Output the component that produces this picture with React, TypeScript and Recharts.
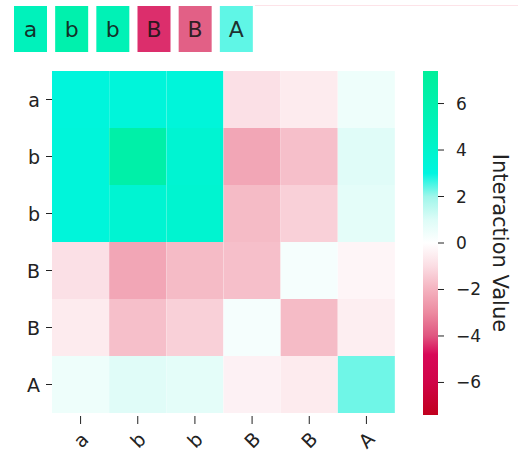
import React from "react";
import {
  Bar,
  BarChart,
  Cell,
  LabelList,
  XAxis,
  YAxis,
} from "recharts";

// residues along both axes
const residues = ["a", "b", "b", "B", "B", "A"];

// per-residue score shown in the top strip
const residueScores = [5.0, 6.0, 5.4, -4.4, -3.8, 2.4];

// pairwise interaction matrix (rows top→bottom, columns left→right)
const rowA = [3.2, 3.3, 3.3, -0.9, -0.6, 0.5];
const rowB1 = [3.3, 6.4, 3.7, -2.3, -1.7, 0.9];
const rowB2 = [3.3, 3.7, 3.8, -1.8, -1.3, 0.8];
const rowBig1 = [-0.9, -2.3, -1.8, -1.7, 0.3, -0.3];
const rowBig2 = [-0.6, -1.7, -1.3, 0.3, -1.8, -0.5];
const rowBigA = [0.5, 0.9, 0.8, -0.4, -0.6, 2.3];
const matrix = [rowA, rowB1, rowB2, rowBig1, rowBig2, rowBigA];

const colorbarTicks = [-6, -4, -2, 0, 2, 4, 6];
const vmax = 7.4;

// diverging colormap: crimson → white → cyan → spring green
const cmapStops: [number, string][] = [
  [-7.4, "#c0001e"],
  [-6.0, "#d00448"],
  [-4.8, "#d80858"],
  [-4.0, "#e05580"],
  [-3.0, "#ec8aa0"],
  [-2.0, "#f4b2bf"],
  [-1.0, "#fbdde3"],
  [0, "#ffffff"],
  [1.0, "#ddfcf7"],
  [2.0, "#9ff6ea"],
  [3.0, "#00f5e0"],
  [4.5, "#00f3c2"],
  [7.4, "#00ef9a"],
];

function hexToRgb(h: string) {
  const n = parseInt(h.slice(1), 16);
  return [(n >> 16) & 255, (n >> 8) & 255, n & 255];
}

function cmap(v: number) {
  const x = Math.max(-vmax, Math.min(vmax, v));
  for (let i = 1; i < cmapStops.length; i++) {
    const [v1, c1] = cmapStops[i];
    if (x <= v1) {
      const [v0, c0] = cmapStops[i - 1];
      const t = (x - v0) / (v1 - v0);
      const a = hexToRgb(c0);
      const b = hexToRgb(c1);
      const m = a.map((ch, k) => Math.round(ch + (b[k] - ch) * t));
      return `rgb(${m[0]},${m[1]},${m[2]})`;
    }
  }
  return cmapStops[cmapStops.length - 1][1];
}

const FONT = "'DejaVu Sans', sans-serif";
const TEXT = "#222";

const fmtMinus = (v: number) => (v < 0 ? `\u2212${Math.abs(v)}` : `${v}`);

// one column of stacked unit blocks per residue, one block per matrix row
const heatData = residues.map((label) => {
  const d: Record<string, number | string> = { label };
  matrix.forEach((_, r) => (d[`r${r}`] = 1));
  return d;
});

const stripData = residues.map((label, i) => ({
  label,
  score: residueScores[i],
  size: 1,
}));

// tick x/y arrive already shifted by tickSize + tickMargin (8px) from the axis
const XTick = (props: any) => {
  const { x, y, payload } = props;
  return (
    <g transform={`translate(${x},${y})`}>
      <line x1={0} x2={0} y1={-5} y2={3} stroke={TEXT} strokeWidth={1} />
      <text
        transform="translate(0,19) rotate(-45)"
        textAnchor="middle"
        dominantBaseline="central"
        fontFamily={FONT}
        fontSize={19}
        fill={TEXT}
      >
        {payload.value}
      </text>
    </g>
  );
};

const YTick = (props: any) => {
  const { x, y, payload } = props;
  return (
    <g transform={`translate(${x},${y})`}>
      <line x1={2} x2={8} y1={0} y2={0} stroke={TEXT} strokeWidth={1} />
      <text
        x={-4}
        textAnchor="end"
        dominantBaseline="central"
        fontFamily={FONT}
        fontSize={19}
        fill={TEXT}
      >
        {residues[Math.floor(payload.value)]}
      </text>
    </g>
  );
};

const CbTick = (props: any) => {
  const { x, y, payload } = props;
  return (
    <g transform={`translate(${x},${y})`}>
      <line x1={-8} x2={-2} y1={0} y2={0} stroke={TEXT} strokeWidth={1} />
      <text
        x={10}
        textAnchor="start"
        dominantBaseline="central"
        fontFamily={FONT}
        fontSize={17}
        fill={TEXT}
      >
        {fmtMinus(payload.value)}
      </text>
    </g>
  );
};

const CbLabel = (props: any) => {
  const { viewBox } = props;
  const cx = viewBox.x + 62;
  const cy = viewBox.y + viewBox.height / 2;
  return (
    <text
      x={cx}
      y={cy}
      transform={`rotate(90, ${cx}, ${cy})`}
      textAnchor="middle"
      dominantBaseline="central"
      fontFamily={FONT}
      fontSize={21}
      fill={TEXT}
    >
      Interaction Value
    </text>
  );
};

export default function App() {
  return (
    <div
      style={{
        position: "absolute",
        left: 0,
        top: 0,
        width: 518,
        height: 453,
        background: "#fff",
        overflow: "hidden",
      }}
    >
      <div
        style={{
          position: "absolute",
          left: 255,
          top: 5,
          width: 263,
          height: 1,
          background: "#fde3e8",
        }}
      />

      {/* residue strip */}
      <div style={{ position: "absolute", left: 0, top: 0 }}>
        <BarChart
          width={270}
          height={58}
          data={stripData}
          margin={{ top: 6, right: 13, bottom: 6, left: 10 }}
          barCategoryGap={4}
        >
          <XAxis dataKey="label" hide />
          <YAxis hide domain={[0, 1]} />
          <Bar dataKey="size" isAnimationActive={false}>
            {stripData.map((d, i) => (
              <Cell key={i} fill={cmap(d.score)} />
            ))}
            <LabelList
              dataKey="label"
              position="center"
              fill="#161616"
              fillOpacity={0.9}
              fontFamily={FONT}
              fontSize={22}
            />
          </Bar>
        </BarChart>
      </div>

      {/* interaction heatmap */}
      <div style={{ position: "absolute", left: 0, top: 0 }}>
        <BarChart
          width={518}
          height={453}
          data={heatData}
          margin={{ top: 71, right: 123, bottom: 0, left: 12 }}
          barCategoryGap={0}
        >
          <XAxis
            dataKey="label"
            height={40}
            axisLine={false}
            tickLine={false}
            tick={<XTick />}
            interval={0}
          />
          <YAxis
            type="number"
            domain={[0, 6]}
            reversed
            ticks={[0.5, 1.5, 2.5, 3.5, 4.5, 5.5]}
            width={40}
            axisLine={false}
            tickLine={false}
            tick={<YTick />}
          />
          {matrix.map((row, r) => (
            <Bar
              key={r}
              dataKey={`r${r}`}
              stackId="m"
              isAnimationActive={false}
            >
              {row.map((v, c) => (
                <Cell key={c} fill={cmap(v)} />
              ))}
            </Bar>
          ))}
        </BarChart>
      </div>

      {/* colorbar */}
      <div style={{ position: "absolute", left: 400, top: 0 }}>
        <BarChart
          width={118}
          height={453}
          data={[{ name: "cb", range: [-vmax, vmax] }]}
          margin={{ top: 71, right: 0, bottom: 38, left: 23 }}
          barCategoryGap={0}
        >
          <defs>
            <linearGradient id="cbGrad" x1="0" y1="0" x2="0" y2="1">
              {cmapStops
                .slice()
                .reverse()
                .map(([v, c]) => (
                  <stop
                    key={v}
                    offset={(vmax - v) / (2 * vmax)}
                    stopColor={c}
                  />
                ))}
            </linearGradient>
          </defs>
          <XAxis dataKey="name" hide />
          <YAxis
            orientation="right"
            type="number"
            domain={[-vmax, vmax]}
            ticks={colorbarTicks}
            width={80}
            axisLine={false}
            tickLine={false}
            tick={<CbTick />}
            label={<CbLabel />}
          />
          <Bar dataKey="range" fill="url(#cbGrad)" isAnimationActive={false} />
        </BarChart>
      </div>
    </div>
  );
}
